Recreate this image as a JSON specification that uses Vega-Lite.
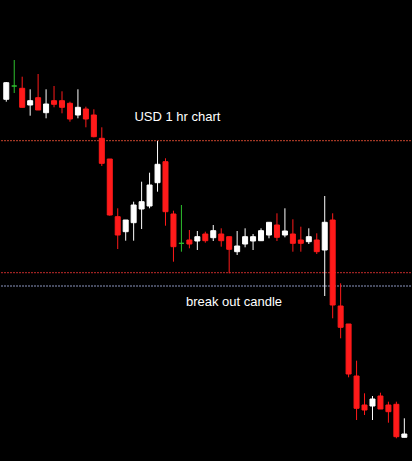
{
  "$schema": "https://vega.github.io/schema/vega-lite/v6.json",
  "width": 412,
  "height": 461,
  "autosize": {"type": "fit", "contains": "padding"},
  "padding": 0,
  "background": "black",
  "config": {"view": {"stroke": null}},
  "datasets": {
    "candles": [
      {"i": 0, "o": 400.7, "c": 417.3, "h": 418, "l": 398.3},
      {"i": 1, "o": 414, "c": 414, "h": 440, "l": 407},
      {"i": 2, "o": 411.7, "c": 392.7, "h": 423.3, "l": 392.7},
      {"i": 3, "o": 395, "c": 399.3, "h": 410.7, "l": 384.3},
      {"i": 4, "o": 402.3, "c": 390, "h": 426, "l": 390},
      {"i": 5, "o": 387.3, "c": 396, "h": 410.7, "l": 381.7},
      {"i": 6, "o": 399.3, "c": 395.7, "h": 414, "l": 392.7},
      {"i": 7, "o": 399.3, "c": 392.7, "h": 408.7, "l": 386.7},
      {"i": 8, "o": 396.7, "c": 381, "h": 398.3, "l": 378.3},
      {"i": 9, "o": 385, "c": 392.7, "h": 410.7, "l": 381.7},
      {"i": 10, "o": 391, "c": 381, "h": 393.3, "l": 372.7},
      {"i": 11, "o": 385, "c": 363.3, "h": 390.7, "l": 362.7},
      {"i": 12, "o": 361.7, "c": 336.7, "h": 372.7, "l": 334},
      {"i": 13, "o": 341, "c": 285, "h": 341, "l": 284.3},
      {"i": 14, "o": 283.3, "c": 265, "h": 291.7, "l": 251},
      {"i": 15, "o": 268.3, "c": 280, "h": 280, "l": 259.3},
      {"i": 16, "o": 277.3, "c": 295, "h": 298.3, "l": 259.3},
      {"i": 17, "o": 291, "c": 298.3, "h": 318.3, "l": 271},
      {"i": 18, "o": 294, "c": 315, "h": 327.3, "l": 291.7},
      {"i": 19, "o": 317.3, "c": 335.7, "h": 359, "l": 308.3},
      {"i": 20, "o": 338.3, "c": 288.3, "h": 341.7, "l": 274.3},
      {"i": 21, "o": 286, "c": 253.3, "h": 289.3, "l": 238.3},
      {"i": 22, "o": 256.7, "c": 256.7, "h": 295, "l": 248.3},
      {"i": 23, "o": 260, "c": 256, "h": 270, "l": 251.7},
      {"i": 24, "o": 259, "c": 263.3, "h": 269, "l": 250},
      {"i": 25, "o": 266, "c": 259.3, "h": 268.3, "l": 257.3},
      {"i": 26, "o": 262.3, "c": 269.3, "h": 275, "l": 259},
      {"i": 27, "o": 266, "c": 259.3, "h": 271.7, "l": 253.3},
      {"i": 28, "o": 263.3, "c": 250.7, "h": 263.3, "l": 226.7},
      {"i": 29, "o": 248.3, "c": 254, "h": 269, "l": 245},
      {"i": 30, "o": 256, "c": 263.3, "h": 271.7, "l": 252.7},
      {"i": 31, "o": 259, "c": 263.3, "h": 266, "l": 250},
      {"i": 32, "o": 259.3, "c": 269.3, "h": 271.7, "l": 259.3},
      {"i": 33, "o": 265, "c": 277.7, "h": 277.7, "l": 261.7},
      {"i": 34, "o": 275, "c": 262.7, "h": 286.7, "l": 259},
      {"i": 35, "o": 265, "c": 269, "h": 291.7, "l": 262.7},
      {"i": 36, "o": 266, "c": 256.7, "h": 280.7, "l": 248.3},
      {"i": 37, "o": 260, "c": 256.7, "h": 273.3, "l": 248.3},
      {"i": 38, "o": 258.3, "c": 263.3, "h": 271.7, "l": 256},
      {"i": 39, "o": 260, "c": 248.3, "h": 266.7, "l": 246},
      {"i": 40, "o": 250, "c": 277.7, "h": 304, "l": 204},
      {"i": 41, "o": 280, "c": 195, "h": 286.7, "l": 181.7},
      {"i": 42, "o": 194, "c": 172.7, "h": 216.7, "l": 161.7},
      {"i": 43, "o": 176, "c": 126, "h": 176, "l": 122.7},
      {"i": 44, "o": 124, "c": 91.7, "h": 139.3, "l": 80},
      {"i": 45, "o": 95, "c": 90, "h": 106.7, "l": 85},
      {"i": 46, "o": 94, "c": 101, "h": 104, "l": 80},
      {"i": 47, "o": 104, "c": 91, "h": 107.3, "l": 91},
      {"i": 48, "o": 95, "c": 88.3, "h": 98.3, "l": 77.3},
      {"i": 49, "o": 95.7, "c": 63.3, "h": 98.3, "l": 61.7},
      {"i": 50, "o": 62.7, "c": 66, "h": 81.7, "l": 62.7}
    ],
    "levels": [
      {"level": 359.3, "kind": "resistance"},
      {"level": 227.3, "kind": "support"},
      {"level": 214, "kind": "breakout"}
    ],
    "notes": [
      {"i": 21.5, "p": 383, "text": "USD 1 hr chart"},
      {"i": 28.6, "p": 198, "text": "break out candle"}
    ]
  },
  "encoding": {
    "x": {"field": "i", "type": "quantitative", "scale": {"domain": [-0.6625, 50.8375], "nice": false, "zero": false, "padding": 0}, "axis": null}
  },
  "layer": [
    {
      "data": {"name": "levels"},
      "mark": {"type": "rule", "strokeWidth": 1, "strokeDash": [2, 1]},
      "encoding": {
        "x": null,
        "y": {"field": "level", "type": "quantitative", "scale": {"domain": [39, 500], "nice": false, "zero": false}, "axis": null},
        "color": {"field": "kind", "type": "nominal", "legend": null,
          "scale": {"domain": ["resistance", "support", "breakout"], "range": ["#c8442e", "#c02a2a", "#8c96c0"]}}
      }
    },
    {
      "data": {"name": "candles"},
      "mark": {"type": "rule", "strokeWidth": 1},
      "encoding": {
        "y": {"field": "l", "type": "quantitative", "scale": {"domain": [39, 500], "nice": false, "zero": false}, "axis": null},
        "y2": {"field": "h"},
        "color": {
          "condition": [
            {"test": "datum.c > datum.o", "value": "white"},
            {"test": "datum.c == datum.o", "value": "#2ec02e"}
          ],
          "value": "#ff1a1a"
        }
      }
    },
    {
      "data": {"name": "candles"},
      "mark": {"type": "bar", "size": 5, "strokeWidth": 1},
      "encoding": {
        "y": {"field": "o", "type": "quantitative", "scale": {"domain": [39, 500], "nice": false, "zero": false}, "axis": null},
        "y2": {"field": "c"},
        "color": {
          "condition": [
            {"test": "datum.c > datum.o", "value": "white"},
            {"test": "datum.c == datum.o", "value": "#2ec02e"}
          ],
          "value": "#ff1a1a"
        },
        "stroke": {
          "condition": [
            {"test": "datum.c > datum.o", "value": "white"},
            {"test": "datum.c == datum.o", "value": "#2ec02e"}
          ],
          "value": "#ff1a1a"
        }
      }
    },
    {
      "data": {"name": "notes"},
      "mark": {"type": "text", "color": "white", "font": "Liberation Sans", "fontSize": 13, "align": "center", "baseline": "middle"},
      "encoding": {
        "y": {"field": "p", "type": "quantitative", "scale": {"domain": [39, 500], "nice": false, "zero": false}, "axis": null},
        "text": {"field": "text"}
      }
    }
  ]
}
